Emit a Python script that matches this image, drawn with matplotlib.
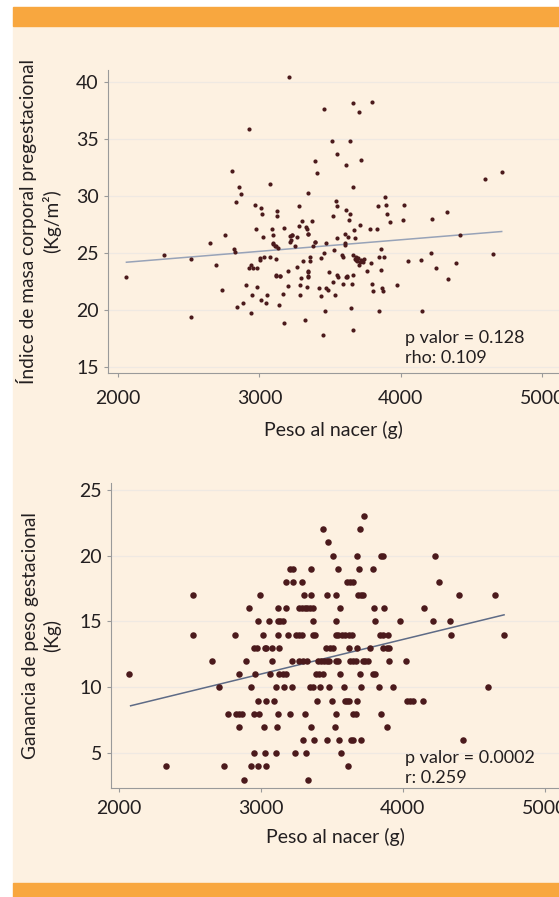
import numpy as np
import matplotlib.pyplot as plt
from matplotlib.patches import Rectangle

plt.rcParams['font.family'] = ['Lato', 'DejaVu Sans']

# top panel: birth weight (g) vs pre-pregnancy BMI
imc_peso = [2060, 2323, 2514, 2514, 2648, 2693, 2737, 2756, 2806, 2817, 2825, 2834, 2839,
            2853, 2869, 2883, 2905, 2928, 2928, 2938, 2942, 2947, 2968, 2975, 2980, 2980,
            3004, 3013, 3018, 3022, 3013, 3032, 3046, 3055, 3074, 3088, 3093, 3097, 3110,
            3074, 3117, 3126, 3126, 3133, 3117, 3138, 3145, 3164, 3171, 3209, 3171, 3204,
            3204, 3216, 3221, 3232, 3249, 3268, 3268, 3279, 3279, 3286, 3286, 3296, 3303,
            3310, 3319, 3326, 3336, 3343, 3345, 3345, 3345, 3338, 3357, 3357, 3371, 3381,
            3390, 3390, 3407, 3418, 3432, 3435, 3458, 3456, 3461, 3451, 3468, 3470, 3484,
            3494, 3515, 3522, 3527, 3522, 3534, 3541, 3550, 3546, 3550, 3546, 3553, 3581,
            3593, 3588, 3604, 3604, 3609, 3609, 3611, 3621, 3628, 3633, 3637, 3642, 3645,
            3654, 3663, 3663, 3663, 3659, 3668, 3673, 3677, 3682, 3687, 3694, 3701, 3701,
            3710, 3715, 3720, 3729, 3738, 3762, 3781, 3786, 3795, 3795, 3800, 3828, 3840,
            3845, 3847, 3857, 3859, 3866, 3875, 3880, 3884, 3894, 3899, 3922, 3974, 4012,
            4021, 4052, 4139, 4146, 4210, 4219, 4248, 4325, 4330, 4389, 4417, 4594, 4653,
            4712, 3098, 3117, 3227, 3216, 3345, 3392, 3117, 3145, 3345, 3345, 3616, 3663,
            3682, 3710, 2956, 3004, 3604]
imc_valor = [22.9, 24.8, 24.5, 19.4, 25.9, 24.0, 21.75, 26.6, 32.2, 25.4, 25.1, 29.5, 20.3,
             30.8, 30.2, 20.6, 22.2, 35.9, 23.7, 24.0, 19.7, 21.3, 29.2, 27.1, 23.7, 22.0,
             24.6, 29.0, 28.4, 26.4, 20.9, 24.7, 20.6, 21.3, 31.1, 27.15, 26.6, 25.8, 25.6,
             24.7, 24.5, 28.7, 28.3, 25.45, 23.0, 20.4, 23.0, 21.4, 18.9, 40.5, 27.2, 23.4,
             22.1, 26.5, 26.15, 26.6, 25.6, 26.4, 23.8, 29.1, 27.4, 22.2, 21.3, 22.8, 27.8,
             24.3, 19.1, 27.3, 27.15, 26.7, 30.3, 23.3, 22.9, 22.0, 24.7, 24.3, 27.8, 25.6,
             33.1, 26.0, 32.0, 21.9, 24.6, 21.2, 37.7, 25.0, 19.9, 17.8, 21.95, 25.9, 21.75,
             23.3, 34.9, 28.3, 25.3, 22.5, 21.3, 29.6, 33.7, 26.3, 29.1, 23.1, 22.9, 24.8,
             24.7, 22.3, 25.7, 26.65, 32.75, 28.8, 22.9, 23.0, 26.4, 27.9, 34.9, 28.4, 20.2,
             22.3, 38.2, 30.85, 18.2, 24.8, 27.0, 24.5, 26.3, 24.7, 24.3, 24.6, 37.4, 24.0,
             27.5, 24.4, 33.2, 24.2, 24.45, 23.4, 27.1, 24.1, 38.3, 22.3, 21.7, 27.15, 29.1,
             24.7, 19.9, 25.4, 23.5, 21.9, 21.7, 24.7, 29.9, 29.2, 28.4, 27.7, 22.2, 27.9,
             29.2, 24.3, 24.4, 19.9, 25.0, 28.0, 23.7, 28.6, 22.7, 24.1, 26.6, 31.5, 24.9,
             32.1, 25.9, 25.6, 26.6, 26.0, 26.7, 26.0, 23.1, 23.0, 23.4, 23.0, 22.9, 23.1,
             24.4, 24.2, 23.7, 24.4, 25.9]
imc_recta = [(2060, 24.2), (4712, 26.9)]

# bottom panel: gestational weight gain (kg) is whole numbers, one row of weights per value
gan_filas = {
    23: [3725],
    22: [3438, 3697],
    21: [3469],
    20: [3509, 3676, 3845, 3862, 4223],
    19: [3208, 3227, 3349, 3542, 3687, 3786],
    18: [3177, 3224, 3288, 3607, 3626, 3650, 4254],
    17: [2524, 2996, 3302, 3349, 3466, 3528, 3683, 3706, 3720, 4392, 4651],
    16: [2914, 3121, 3177, 3269, 3288, 3307, 3323, 3344, 3365, 3560, 3795, 3866, 4150],
    15: [2978, 3058, 3119, 3137, 3156, 3365, 3528, 3800, 3979, 4214, 4331],
    14: [2522, 2818, 3013, 3119, 3187, 3250, 3269, 3288, 3363, 3382, 3528, 3546, 3570,
         3593, 3617, 3640, 3838, 3861, 3894, 4341, 4712],
    13: [2952, 2973, 3025, 3039, 3081, 3128, 3457, 3485, 3504, 3617, 3673, 3770, 3861,
         3885, 3904],
    12: [2656, 2893, 3081, 3222, 3271, 3297, 3321, 3405, 3424, 3443, 3462, 3480, 3528,
         3546, 3626, 3650, 3669, 3716, 3734, 3753, 3904, 4021],
    11: [2073, 2846, 2959, 3062, 3128, 3152, 3175, 3387, 3410, 3434, 3560, 3694, 3788,
         3805],
    10: [2705, 2933, 3105, 3161, 3220, 3344, 3363, 3415, 3481, 3584, 3708, 3833, 3927,
         4599],
    9: [2982, 3034, 3095, 3396, 3497, 3589, 3607, 3621, 3678, 4026, 4049, 4068, 4143],
    8: [2766, 2827, 2846, 2865, 2949, 2987, 3119, 3203, 3307, 3525, 3650, 3669, 3845],
    7: [2844, 3022, 3114, 3354, 3520, 3885],
    6: [3293, 3375, 3466, 3551, 3636, 3650, 3708, 4425],
    5: [2949, 3025, 3109, 3241, 3316, 3563],
    4: [2334, 2743, 2933, 2982, 3034, 3612],
    3: [2881, 3332],
}
gan_peso = [p for v, fila in gan_filas.items() for p in fila]
gan_valor = [v for v, fila in gan_filas.items() for p in fila]
gan_recta = [(2082, 8.6), (4712, 15.5)]

fondo = '#fdf1e1'
naranja = '#f8a73f'
punto = '#4b1a1c'
texto = '#231f20'

fig = plt.figure(figsize=(5.59, 8.97), dpi=100)
fig.patch.set_facecolor('white')

# cream panel and orange bands, kept behind the axes
fig.add_artist(Rectangle((13 / 559, 14 / 897), 546 / 559, 869 / 897,
                         transform=fig.transFigure, color=fondo, zorder=-3))
fig.add_artist(Rectangle((13 / 559, 871 / 897), 546 / 559, 19 / 897,
                         transform=fig.transFigure, color=naranja, zorder=-2))
fig.add_artist(Rectangle((13 / 559, 0), 546 / 559, 14 / 897,
                         transform=fig.transFigure, color=naranja, zorder=-2))


def estilo(ax, yticks, xpad, labelpad):
    ax.set_facecolor(fondo)
    for s in ['top', 'right']:
        ax.spines[s].set_visible(False)
    for s in ['left', 'bottom']:
        ax.spines[s].set_color('#9a9a9a')
        ax.spines[s].set_linewidth(0.8)
    ax.set_xticks([2000, 3000, 4000, 5000])
    ax.set_yticks(yticks)
    ax.tick_params(colors='#9a9a9a', labelcolor=texto, labelsize=14, length=3, width=0.8)
    ax.tick_params(axis='x', pad=xpad)
    ax.grid(axis='y', color='#efe9e2', linewidth=0.9)
    ax.set_axisbelow(True)
    ax.set_xlabel('Peso al nacer (g)', fontsize=14, color=texto, labelpad=labelpad)


ax1 = fig.add_axes([0.193, 0.584, 0.807, 0.338])
estilo(ax1, [15, 20, 25, 30, 35, 40], 9, 10)
ax1.scatter(imc_peso, imc_valor, s=9, color=punto, linewidths=0, zorder=3)
ax1.plot([p[0] for p in imc_recta], [p[1] for p in imc_recta], color='#98a3b8', lw=1.1, zorder=2)
ax1.set_xlim(1929, 5117)
ax1.set_ylim(14.45, 41.1)
ax1.set_ylabel('Índice de masa corporal pregestacional\n(Kg/m²)', fontsize=13.8,
               color=texto, labelpad=11, linespacing=1.3)
ax1.text(0.659, 0.115, 'p valor = 0.128', transform=ax1.transAxes, fontsize=13,
         color=texto, va='center')
ax1.text(0.659, 0.05, 'rho: 0.109', transform=ax1.transAxes, fontsize=13,
         color=texto, va='center')

ax2 = fig.add_axes([0.1986, 0.1215, 0.8014, 0.340])
estilo(ax2, [5, 10, 15, 20, 25], 5.5, 8)
ax2.scatter(gan_peso, gan_valor, s=22, color=punto, linewidths=0, zorder=3)
ax2.plot([p[0] for p in gan_recta], [p[1] for p in gan_recta], color='#5e6b86', lw=1.1, zorder=2)
ax2.set_xlim(1944, 5099)
ax2.set_ylim(2.36, 25.5)
ax2.set_ylabel('Ganancia de peso gestacional\n(Kg)', fontsize=13.8,
               color=texto, labelpad=13, linespacing=1.3)
ax2.text(0.656, 0.10, 'p valor = 0.0002', transform=ax2.transAxes, fontsize=13,
         color=texto, va='center')
ax2.text(0.656, 0.033, 'r: 0.259', transform=ax2.transAxes, fontsize=13,
         color=texto, va='center')

fig.savefig('out.png', dpi=100)
